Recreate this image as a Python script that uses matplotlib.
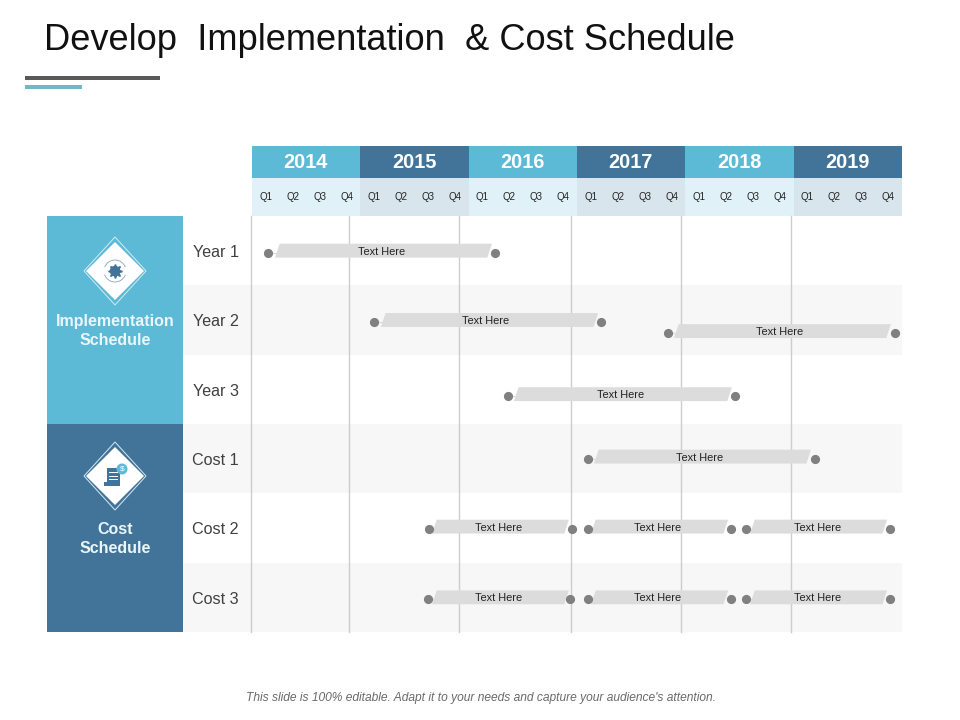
import numpy as np
import matplotlib.pyplot as plt
from matplotlib.patches import Polygon, Rectangle, Circle, Arc

plt.rcParams['font.family'] = ['Liberation Sans', 'DejaVu Sans']

# Data
years = ['2014', '2015', '2016', '2017', '2018', '2019']
quarters = ['Q1', 'Q2', 'Q3', 'Q4']
rows = ['Year 1', 'Year 2', 'Year 3', 'Cost 1', 'Cost 2', 'Cost 3']
groups = ['Implementation\nSchedule', 'Cost\nSchedule']

# one entry per bar, x in quarters from start of 2014, y in rows from top
bar_start = [0.59, 4.50, 15.36, 9.45, 12.41, 6.54, 12.41, 18.24, 6.50, 12.41, 18.24]
bar_end = [8.97, 12.89, 23.74, 17.84, 20.79, 11.82, 17.69, 23.56, 11.75, 17.69, 23.56]
bar_left = [0.85, 4.76, 15.58, 9.67, 12.63, 6.65, 12.52, 18.39, 6.65, 12.52, 18.39]
bar_right = [8.86, 12.78, 23.59, 17.72, 20.64, 11.70, 17.58, 23.45, 11.70, 17.58, 23.45]
bar_row = [0.53, 1.53, 1.69, 2.60, 3.50, 4.51, 4.51, 4.51, 5.53, 5.53, 5.53]
bar_text_x = [4.78, 8.62, 19.48, 13.61, 16.51, 9.12, 14.99, 20.88, 9.12, 14.99, 20.88]
bar_labels = ['Text Here'] * 11
grid_quarters = [-0.04, 3.58, 7.64, 11.78, 15.84, 19.90]

LIGHT = '#5cbad6'
DARK = '#42749a'
PALE_L = '#e0f2f7'
PALE_D = '#d8e5ed'
BAND = '#f7f7f7'
DOT = '#808080'
BAR = '#dcdcdc'

fig = plt.figure(figsize=(9.6, 7.2), dpi=100, facecolor='white')

# page axes in pixels, for the slide furniture
page = fig.add_axes([0, 0, 1, 1])
page.set_xlim(0, 960)
page.set_ylim(720, 0)
page.axis('off')

page.text(44, 50, 'Develop  Implementation  & Cost Schedule', fontsize=26.1,
          color='#111111', va='baseline', ha='left')
page.add_patch(Rectangle((25, 76), 135, 4, color='#595959', lw=0))
page.add_patch(Rectangle((25, 85), 57, 4, color='#6fb9c6', lw=0))
page.text(481.5, 698, "This slide is 100% editable. Adapt it to your needs and capture your audience's attention.",
          fontsize=8.65, style='italic', color='#6a6a6a', ha='center', va='center')

# row bands
row_h = (632 - 216) / len(rows)
for i, r in enumerate(rows):
    if i % 2 == 1:
        page.add_patch(Rectangle((183, 216 + i * row_h), 719, row_h, color=BAND, lw=0))
    page.text(239, 216 + (i + 0.5) * row_h + 2, r, fontsize=11.6, color='#404040',
              ha='right', va='center')

# left panels
for i, (g, col) in enumerate(zip(groups, [LIGHT, DARK])):
    top = 216 + i * 208
    cy = top + 55 - 3 * i
    page.add_patch(Rectangle((47, top), 136, 208, color=col, lw=0))
    page.add_patch(Polygon([(115, cy - 34), (146, cy), (115, cy + 34), (84, cy)],
                           closed=True, fc='none', ec='#d5eaf2', lw=0.7))
    page.add_patch(Polygon([(115, cy - 29), (144, cy), (115, cy + 29), (86, cy)],
                           closed=True, fc='white', ec='none'))
    page.text(115, top + 115, g, fontsize=11.5, fontweight='bold', color='#eaf6fa',
              ha='center', va='center', linespacing=1.4)

# gear icon
page.plot(115, 271, marker=(8, 1, 0), ms=10, color=DARK, ls='none')
page.add_patch(Circle((115, 271), 5.2, fc=DARK, ec='none'))
page.add_patch(Circle((115, 271), 2.2, fc='white', ec='none'))
page.add_patch(Arc((115, 271), 22, 22, theta1=20, theta2=160, ec='#7fa6bf', lw=0.6))
page.add_patch(Arc((115, 271), 22, 22, theta1=200, theta2=340, ec='#7fa6bf', lw=0.6))

# document icon
page.add_patch(Polygon([(107, 468), (120, 468), (120, 486), (104, 486), (104, 482), (107, 482)],
                       closed=True, fc=DARK, ec='none'))
for ly in [472, 475.5, 479]:
    page.plot([109, 117], [ly, ly], color='white', lw=0.7)
page.add_patch(Circle((122, 469), 5.5, fc=LIGHT, ec='none'))
page.text(122, 469, '$', fontsize=6, color='white', ha='center', va='center')

# year and quarter header
year_w = 650 / len(years)
q_w = year_w / 4
for i, y in enumerate(years):
    x0 = 252 + i * year_w
    page.add_patch(Rectangle((x0, 146), year_w, 32, color=DARK if i % 2 else LIGHT, lw=0))
    page.add_patch(Rectangle((x0, 178), year_w, 38, color=PALE_D if i % 2 else PALE_L, lw=0))
    page.text(x0 + year_w / 2 - 0.5, 163, y, fontsize=14.4, fontweight='bold', color='white',
              ha='center', va='center')
    for j, q in enumerate(quarters):
        page.text(x0 + (j + 0.5) * q_w, 197, q, fontsize=7, color='#222222',
                  ha='center', va='center')

# gantt axes, x in quarters, y in rows
ax = fig.add_axes([252 / 960, 1 - 632 / 720, 650 / 960, 416 / 720])
ax.set_xlim(0, 24)
ax.set_ylim(6, 0)
ax.axis('off')
ax.patch.set_alpha(0)

for gx in grid_quarters:
    ax.plot([gx, gx], [0, 6], color='#cdcdcd', lw=1.0, clip_on=False, zorder=1)

slant = 0.17
half_h = 0.10
for s, e, bl, br, r, tx, lab in zip(bar_start, bar_end, bar_left, bar_right, bar_row,
                                    bar_text_x, bar_labels):
    top = r - half_h - 0.03
    bot = r + half_h - 0.03
    ax.add_patch(Polygon([(bl + slant, top), (br, top), (br - slant, bot), (bl, bot)],
                         closed=True, fc=BAR, ec='none', zorder=2))
    ax.plot([bl - 0.08, bl + 0.05], [r, r], color=BAR, lw=0.8, zorder=2)
    ax.plot([s, e], [r, r], ls='none', marker='o', ms=5.6, color=DOT, zorder=3, clip_on=False)
    ax.text(tx, r - 0.015, lab, fontsize=7.9, color='#222222',
            ha='center', va='center', zorder=4)

fig.savefig('out.png', dpi=100)
